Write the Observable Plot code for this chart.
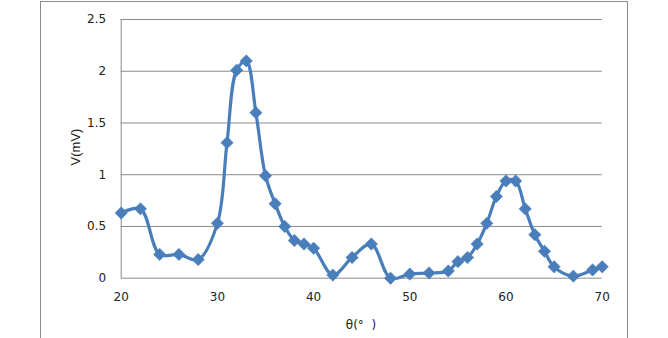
<!DOCTYPE html>
<html>
<head>
<meta charset="utf-8">
<script src="https://cdn.jsdelivr.net/npm/d3@7"></script>
<script src="https://cdn.jsdelivr.net/npm/@observablehq/plot@0.6"></script>
<style>
  html, body { margin: 0; padding: 0; background: #fff; }
  #wrap { position: relative; width: 668px; height: 338px; overflow: hidden; }
  #border { position: absolute; left: 40px; top: 1px; width: 588px; height: 345px; border: 1px solid #8c8c8c; box-sizing: border-box; }
  #chart { position: absolute; left: 0; top: 0; }
  .ylab { position: absolute; left: 75px; top: 147px; transform: translate(-50%, -50%) rotate(-90deg); font: 13px "Liberation Sans", "DejaVu Sans", sans-serif; color: #222; white-space: nowrap; }
  .xlab { position: absolute; left: 361px; top: 325px; transform: translate(-50%, -50%); font: 12px "DejaVu Sans", sans-serif; color: #222; white-space: pre; }
</style>
</head>
<body>
<div id="wrap">
  <div id="border"></div>
  <div id="chart"></div>
  <div class="ylab">V(mV)</div>
  <div class="xlab">θ(°  )</div>
</div>
<script>
const theta = [20, 22, 24, 26, 28, 30, 31, 32, 33, 34, 35, 36, 37, 38, 39, 40, 42, 44, 46, 48, 50, 52, 54, 55, 56, 57, 58, 59, 60, 61, 62, 63, 64, 65, 67, 69, 70];
const voltage = [0.63, 0.67, 0.23, 0.23, 0.18, 0.53, 1.31, 2.01, 2.1, 1.6, 0.99, 0.72, 0.5, 0.365, 0.33, 0.29, 0.03, 0.2, 0.33, 0.0, 0.04, 0.05, 0.07, 0.16, 0.2, 0.33, 0.53, 0.79, 0.94, 0.94, 0.67, 0.42, 0.26, 0.11, 0.02, 0.08, 0.11];
const xTicks = [20, 30, 40, 50, 60, 70];
const yTicks = [0, 0.5, 1, 1.5, 2, 2.5];

const data = theta.map((t, i) => ({theta: t, v: voltage[i]}));
const color = "#4a7ebb";

const chart = Plot.plot({
  width: 668,
  height: 338,
  marginLeft: 120.7,
  marginRight: 66.3,
  marginTop: 19,
  marginBottom: 60.3,
  style: {background: "transparent", fontFamily: "'DejaVu Sans', sans-serif", fontSize: "12px", color: "#222"},
  x: {domain: [20, 70], ticks: xTicks, tickSize: 0, tickPadding: 14, label: null},
  y: {domain: [0, 2.5], ticks: yTicks, tickSize: 0, tickPadding: 15, label: null, tickFormat: d => String(d)},
  marks: [
    Plot.gridY(yTicks, {stroke: "#8a8a8a", strokeOpacity: 1, strokeWidth: 1}),
    Plot.ruleX([20], {stroke: "#8a8a8a", strokeWidth: 1}),
    Plot.line(data, {x: "theta", y: "v", stroke: color, strokeWidth: 3.2, curve: "catmull-rom"}),
    Plot.dot(data, {x: "theta", y: "v", symbol: "diamond2", r: 5.6, fill: color, stroke: color, strokeWidth: 0.5})
  ]
});
document.getElementById("chart").appendChild(chart);
</script>
</body>
</html>
